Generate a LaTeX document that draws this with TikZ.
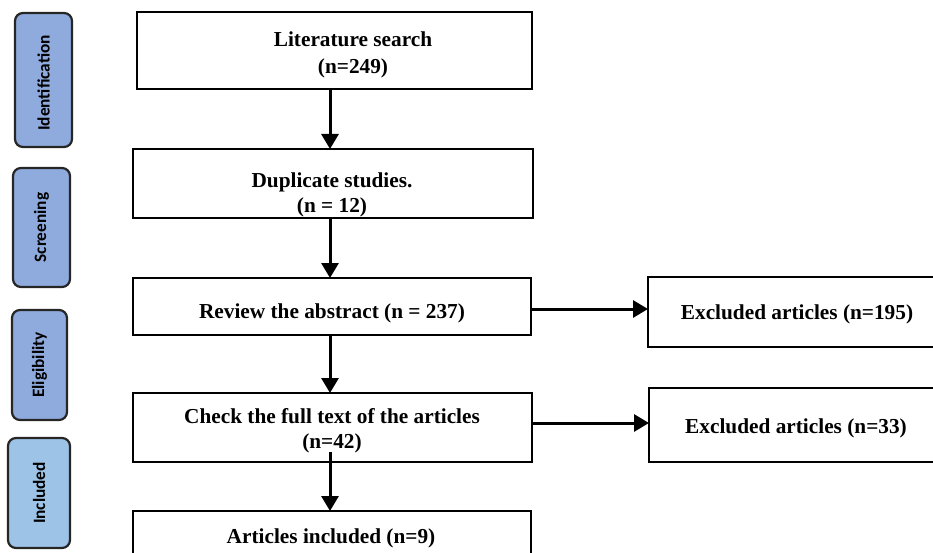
\documentclass[tikz,border=0pt]{standalone}
\usepackage{fontspec}
\setmainfont{Liberation Serif}
\newfontfamily\lab{Carlito}
\usetikzlibrary{arrows.meta}
\definecolor{phaseblue}{HTML}{8FAADC}
\definecolor{inclblue}{HTML}{9DC3E6}
\begin{document}
\begin{tikzpicture}[x=1pt,y=-1pt,
  box/.style={draw, line width=2.8pt, inner sep=0pt, outer sep=0pt},
  txt/.style={font=\fontsize{21.3}{25}\selectfont\bfseries, anchor=base, inner sep=0pt},
  phase/.style={draw=black!85, line width=2.2pt, rounded corners=8pt, inner sep=0pt, outer sep=0pt},
  lbl/.style={font=\lab\bfseries\fontsize{17.3}{20}\selectfont, rotate=90, inner sep=0pt},
  arr/.style={line width=3pt, -{Triangle[length=15pt,width=17pt]}}]
\useasboundingbox (0,0) rectangle (933,553);
\clip (0,0) rectangle (933,553);
% phase labels
\node[phase, fill=phaseblue, minimum width=57pt, minimum height=134pt] (p1) at (43.5,80) {};
\node[lbl] (l1) at ([yshift=-3pt]p1.center) {Identification};
\node[phase, fill=phaseblue, minimum width=57pt, minimum height=119pt] (p2) at (41.5,227.5) {};
\node[lbl] (l2) at (p2.center) {Screening};
\node[phase, fill=phaseblue, minimum width=55pt, minimum height=110pt] (p3) at (39.5,365) {};
\node[lbl] (l3) at (p3.center) {Eligibility};
\node[phase, fill=inclblue, minimum width=62pt, minimum height=110pt] (p4) at (39,493) {};
\node[lbl] (l4) at (p4.center) {Included};
% main boxes
\node[box, minimum width=395pt, minimum height=77pt] (b1) at (334.5,50.5) {};
\node[box, minimum width=400pt, minimum height=69pt] (b2) at (333,183.5) {};
\node[box, minimum width=398pt, minimum height=57pt] (b3) at (332,306.5) {};
\node[box, minimum width=399pt, minimum height=69pt] (b4) at (332.5,427.5) {};
\node[box, minimum width=398pt, minimum height=69pt] (b5) at (332,545.5) {};
\node[box, minimum width=302pt, minimum height=70pt] (e1) at (799,312) {};
\node[box, minimum width=301pt, minimum height=74pt] (e2) at (799.5,425) {};
% texts
\node[txt] (t1a) at (353,47) {Literature search};
\node[txt] (t1b) at (353,74) {(n=249)};
\node[txt] (t2a) at (332,188) {Duplicate studies.};
\node[txt] (t2b) at (332,213) {(n = 12)};
\node[txt] (t3) at (332,318) {Review the abstract (n = 237)};
\node[txt] (t4a) at (332,423) {Check the full text of the articles};
\node[txt] (t4b) at (332,448) {(n=42)};
\node[txt] (t5) at (331,543) {Articles included (n=9)};
\node[txt] (te1) at (797,319) {Excluded articles (n=195)};
\node[txt] (te2) at (796,433) {Excluded articles (n=33)};
% connectors
\coordinate (ax) at (330,0);
\coordinate (ay1) at (0,309);
\coordinate (ay2) at (0,423);
\coordinate (s5) at ([yshift=10pt]b4.south);
\draw[arr] (b1.south -| ax) -- (b2.north -| ax);
\draw[arr] (b2.south -| ax) -- (b3.north -| ax);
\draw[arr] (b3.south -| ax) -- (b4.north -| ax);
\draw[arr] (s5 -| ax) -- (b5.north -| ax);
\draw[arr] (b3.east |- ay1) -- (e1.west |- ay1);
\draw[arr] (b4.east |- ay2) -- (e2.west |- ay2);
\end{tikzpicture}
\end{document}
